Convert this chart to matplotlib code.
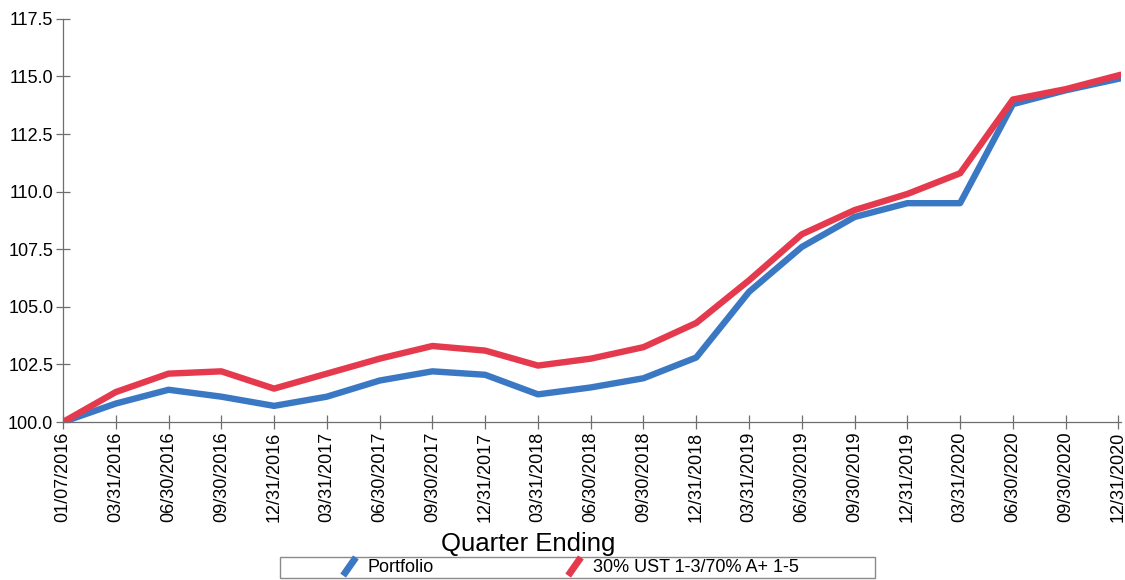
#!/usr/bin/env python3
import matplotlib
matplotlib.use('Agg')
import matplotlib.pyplot as plt
from matplotlib.lines import Line2D
from matplotlib.patches import Rectangle

plt.rcParams['font.family'] = ['Liberation Sans', 'DejaVu Sans']

quarters = ['01/07/2016', '03/31/2016', '06/30/2016', '09/30/2016', '12/31/2016',
            '03/31/2017', '06/30/2017', '09/30/2017', '12/31/2017',
            '03/31/2018', '06/30/2018', '09/30/2018', '12/31/2018',
            '03/31/2019', '06/30/2019', '09/30/2019', '12/31/2019',
            '03/31/2020', '06/30/2020', '09/30/2020', '12/31/2020']

portfolio = [100.0, 100.8, 101.4, 101.1, 100.7, 101.1, 101.8, 102.2, 102.05,
             101.2, 101.5, 101.9, 102.8, 105.65, 107.6, 108.9, 109.5, 109.5,
             113.8, 114.4, 114.9]

benchmark = [100.0, 101.3, 102.1, 102.2, 101.45, 102.1, 102.75, 103.3, 103.1,
             102.45, 102.75, 103.25, 104.3, 106.15, 108.15, 109.2, 109.9, 110.8,
             114.0, 114.45, 115.05]

y_ticks = [100.0, 102.5, 105.0, 107.5, 110.0, 112.5, 115.0, 117.5]

blue = '#3b78c4'
red = '#e53a4e'
axis_grey = '#6e6e6e'

fig = plt.figure(figsize=(11.25, 5.8), dpi=100)
ax = fig.add_axes([0.056, 0.2724, 0.9405, 0.695])

x = list(range(len(quarters)))
ax.plot(x, portfolio, color=blue, lw=4.6, solid_joinstyle='round', label='Portfolio')
ax.plot(x, benchmark, color=red, lw=4.6, solid_joinstyle='round', label='30% UST 1-3/70% A+ 1-5')

ax.set_xlim(0, 20.05)
ax.set_ylim(100.0, 117.5)
ax.set_xticks(x)
ax.set_xticklabels(quarters, rotation=90, fontsize=13)
ax.set_yticks(y_ticks)
ax.set_yticklabels(['%.1f' % v for v in y_ticks], fontsize=13)

for side in ['top', 'right']:
    ax.spines[side].set_visible(False)
for side in ['left', 'bottom']:
    ax.spines[side].set_color(axis_grey)
    ax.spines[side].set_linewidth(0.9)
ax.tick_params(axis='both', direction='inout', length=10, width=0.9,
               color=axis_grey, labelcolor='black', pad=2)

ax.set_xlabel('Quarter Ending', fontsize=18.5)
ax.xaxis.set_label_coords(0.44, -0.273)

# legend entries use a short slanted stroke
handles = [
    Line2D([], [], lw=0, color=blue, marker=(2, 0, -35), markersize=16,
           markeredgewidth=5, markeredgecolor=blue),
    Line2D([], [], lw=0, color=red, marker=(2, 0, -35), markersize=16,
           markeredgewidth=5, markeredgecolor=red),
]
leg = fig.legend(handles, ['Portfolio', '30% UST 1-3/70% A+ 1-5'],
                 loc='center left', bbox_to_anchor=(0.3025, 0.021), ncol=2,
                 fontsize=13, frameon=False, borderpad=0, handlelength=1.0,
                 handletextpad=0.5, columnspacing=7.3, borderaxespad=0)

fig.patches.append(Rectangle((280 / 1125, 2 / 580), 595 / 1125, 21 / 580,
                             transform=fig.transFigure, fill=False,
                             edgecolor='#8a8a8a', linewidth=1.0))

fig.savefig('out.png', dpi=100, facecolor='white')
